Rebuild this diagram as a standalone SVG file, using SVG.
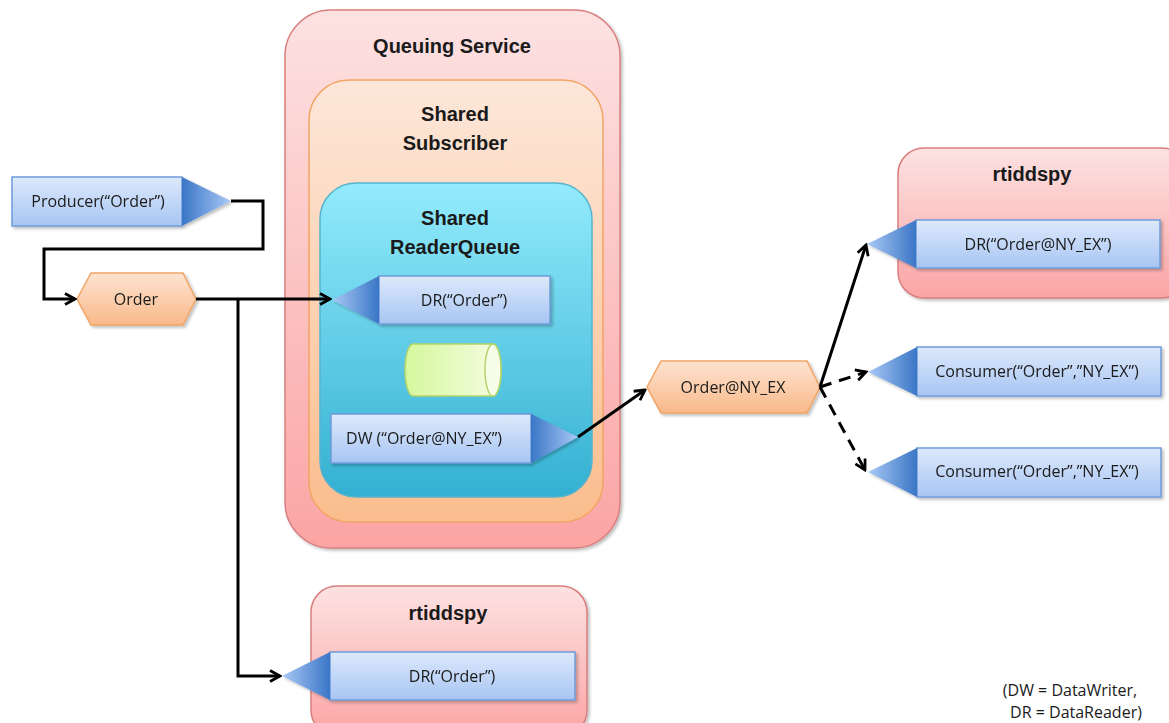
<svg xmlns="http://www.w3.org/2000/svg" width="1169" height="723" viewBox="0 0 1169 723">
<defs>
<style>
text{font-family:"Liberation Sans",Arial,sans-serif;fill:#1a1a1a;text-anchor:middle}
.t{font-size:20px;font-weight:bold}
.l{font-family:"Open Sans","Liberation Sans",sans-serif;font-size:16px}
.rect{fill:url(#gBlue);stroke:#6f9bd9;stroke-width:1.5}
.tri{stroke:none}
.hex{fill:url(#gOrange);stroke:#f2a463;stroke-width:1.5}
.conn{fill:none;stroke:#000;stroke-width:3}
.dash{stroke-dasharray:12 8}
.sh{filter:url(#shadow)}
</style>
<filter id="shadow" x="-10%" y="-10%" width="130%" height="130%">
<feDropShadow dx="2" dy="2" stdDeviation="1.5" flood-color="#000" flood-opacity="0.25"/>
</filter>
<linearGradient id="gBlue" x1="0" y1="0" x2="0" y2="1">
<stop offset="0" stop-color="#dde9fb"/><stop offset="1" stop-color="#a7c5f3"/>
</linearGradient>
<linearGradient id="gTriR" x1="0" y1="0" x2="1" y2="0">
<stop offset="0" stop-color="#3a76c6"/><stop offset="1" stop-color="#a9c9f6"/>
</linearGradient>
<linearGradient id="gTriL" x1="1" y1="0" x2="0" y2="0">
<stop offset="0" stop-color="#3a76c6"/><stop offset="1" stop-color="#a9c9f6"/>
</linearGradient>
<linearGradient id="gOrange" x1="0" y1="0" x2="0" y2="1">
<stop offset="0" stop-color="#fde3d0"/><stop offset="1" stop-color="#f9b98a"/>
</linearGradient>
<linearGradient id="gPink" x1="0" y1="0" x2="0" y2="1">
<stop offset="0" stop-color="#fde2e2"/><stop offset="1" stop-color="#fba4a4"/>
</linearGradient>
<linearGradient id="gPeach" x1="0" y1="0" x2="0" y2="1">
<stop offset="0" stop-color="#fde7da"/><stop offset="1" stop-color="#fbbd8d"/>
</linearGradient>
<linearGradient id="gCyan" x1="0" y1="0" x2="0" y2="1">
<stop offset="0" stop-color="#93ebfc"/><stop offset="1" stop-color="#33b0d2"/>
</linearGradient>
<linearGradient id="gGreen" x1="0" y1="0" x2="1" y2="0">
<stop offset="0" stop-color="#d6f79c"/><stop offset="1" stop-color="#f4fde2"/>
</linearGradient>
<marker id="arr" viewBox="0 0 14 14" refX="12" refY="7" markerWidth="14" markerHeight="14" markerUnits="userSpaceOnUse" orient="auto">
<path d="M2,1.5 L12,7 L2,12.5" fill="none" stroke="#000" stroke-width="2.8"/>
</marker>
</defs>

<g id="queuing-service">
<rect class="sh" x="285" y="10" width="335" height="538" rx="46" fill="url(#gPink)" stroke="#d97f7f" stroke-width="1.5"/>
<text class="t" x="452" y="53">Queuing Service</text>
</g>
<g id="shared-subscriber">
<rect x="309" y="80" width="294" height="442" rx="40" fill="url(#gPeach)" stroke="#f2a463" stroke-width="1.5"/>
<text class="t" x="455" y="121">Shared</text>
<text class="t" x="455" y="150">Subscriber</text>
</g>
<g id="shared-readerqueue">
<rect x="320" y="183" width="272" height="314" rx="36" fill="url(#gCyan)" stroke="#55b4cf" stroke-width="1.5"/>
<text class="t" x="455" y="225">Shared</text>
<text class="t" x="455" y="254">ReaderQueue</text>
</g>

<g id="producer" class="sh">
<rect class="rect" x="12" y="177" width="170" height="49"/>
<polygon class="tri" points="182,177 231,201 182,226" fill="url(#gTriR)"/>
<text class="l" x="98" y="207">Producer(“Order”)</text>
</g>

<g id="order" class="sh">
<polygon class="hex" points="77,299 91,273 183,273 196,299 183,325 91,325"/>
<text class="l" x="136" y="305">Order</text>
</g>

<g id="dr-order-queue" class="sh">
<rect class="rect" x="379" y="276" width="171" height="48"/>
<polygon class="tri" points="379,276 332,300 379,324" fill="url(#gTriL)"/>
<text class="l" x="464" y="306">DR(“Order”)</text>
</g>

<g id="queue-cylinder">
<path d="M413,344 H493 A8,26 0 0 1 493,396 H413 A8,26 0 0 1 413,344 Z" fill="url(#gGreen)" stroke="#b4d36a" stroke-width="1.5"/>
<ellipse cx="493" cy="370" rx="8" ry="26" fill="#f6fde8" stroke="#b4d36a" stroke-width="1.5"/>
</g>

<g id="dw-order-nyex" class="sh">
<rect class="rect" x="331" y="414" width="200" height="49"/>
<polygon class="tri" points="531,414 578,437 531,463" fill="url(#gTriR)"/>
<text class="l" x="424" y="444">DW (“Order@NY_EX”)</text>
</g>

<g id="order-nyex" class="sh">
<polygon class="hex" points="647,387 661,361 807,361 820,387 807,413 661,413"/>
<text class="l" x="733" y="393">Order@NY_EX</text>
</g>

<g id="rtiddspy-top">
<rect class="sh" x="898" y="148" width="290" height="150" rx="26" fill="url(#gPink)" stroke="#d97f7f" stroke-width="1.5"/>
<text class="t" x="1032" y="181">rtiddspy</text>
<g class="sh">
<rect class="rect" x="916" y="220" width="244" height="48"/>
<polygon class="tri" points="916,220 867,244 916,268" fill="url(#gTriL)"/>
<text class="l" x="1038" y="250">DR(“Order@NY_EX”)</text>
</g>
</g>

<g id="consumer-1" class="sh">
<rect class="rect" x="917" y="347" width="244" height="49"/>
<polygon class="tri" points="917,347 868,372 917,396" fill="url(#gTriL)"/>
<text class="l" x="1037" y="377">Consumer(“Order”,”NY_EX”)</text>
</g>

<g id="consumer-2" class="sh">
<rect class="rect" x="917" y="448" width="244" height="49"/>
<polygon class="tri" points="917,448 868,472 917,497" fill="url(#gTriL)"/>
<text class="l" x="1037" y="477">Consumer(“Order”,”NY_EX”)</text>
</g>

<g id="rtiddspy-bottom">
<rect class="sh" x="311" y="586" width="276" height="150" rx="26" fill="url(#gPink)" stroke="#d97f7f" stroke-width="1.5"/>
<text class="t" x="448" y="620">rtiddspy</text>
<g class="sh">
<rect class="rect" x="330" y="652" width="245" height="48"/>
<polygon class="tri" points="330,652 282,676 330,700" fill="url(#gTriL)"/>
<text class="l" x="452" y="682">DR(“Order”)</text>
</g>
</g>

<g id="connectors">
<path class="conn" d="M231,201 H263 V249 H44 V299 H75" marker-end="url(#arr)"/>
<path class="conn" d="M196,299 H330" marker-end="url(#arr)"/>
<path class="conn" d="M238,299 V676 H280" marker-end="url(#arr)"/>
<path class="conn" d="M578,437 L645,390" marker-end="url(#arr)"/>
<path class="conn" d="M820,387 L866,245" marker-end="url(#arr)"/>
<path class="conn dash" d="M820,387 L866,372" marker-end="url(#arr)"/>
<path class="conn dash" d="M820,387 L865,470" marker-end="url(#arr)"/>
</g>

<g id="legend">
<text class="l" x="1070" y="696">(DW = DataWriter,</text>
<text class="l" x="1076" y="718">DR = DataReader)</text>
</g>
</svg>
